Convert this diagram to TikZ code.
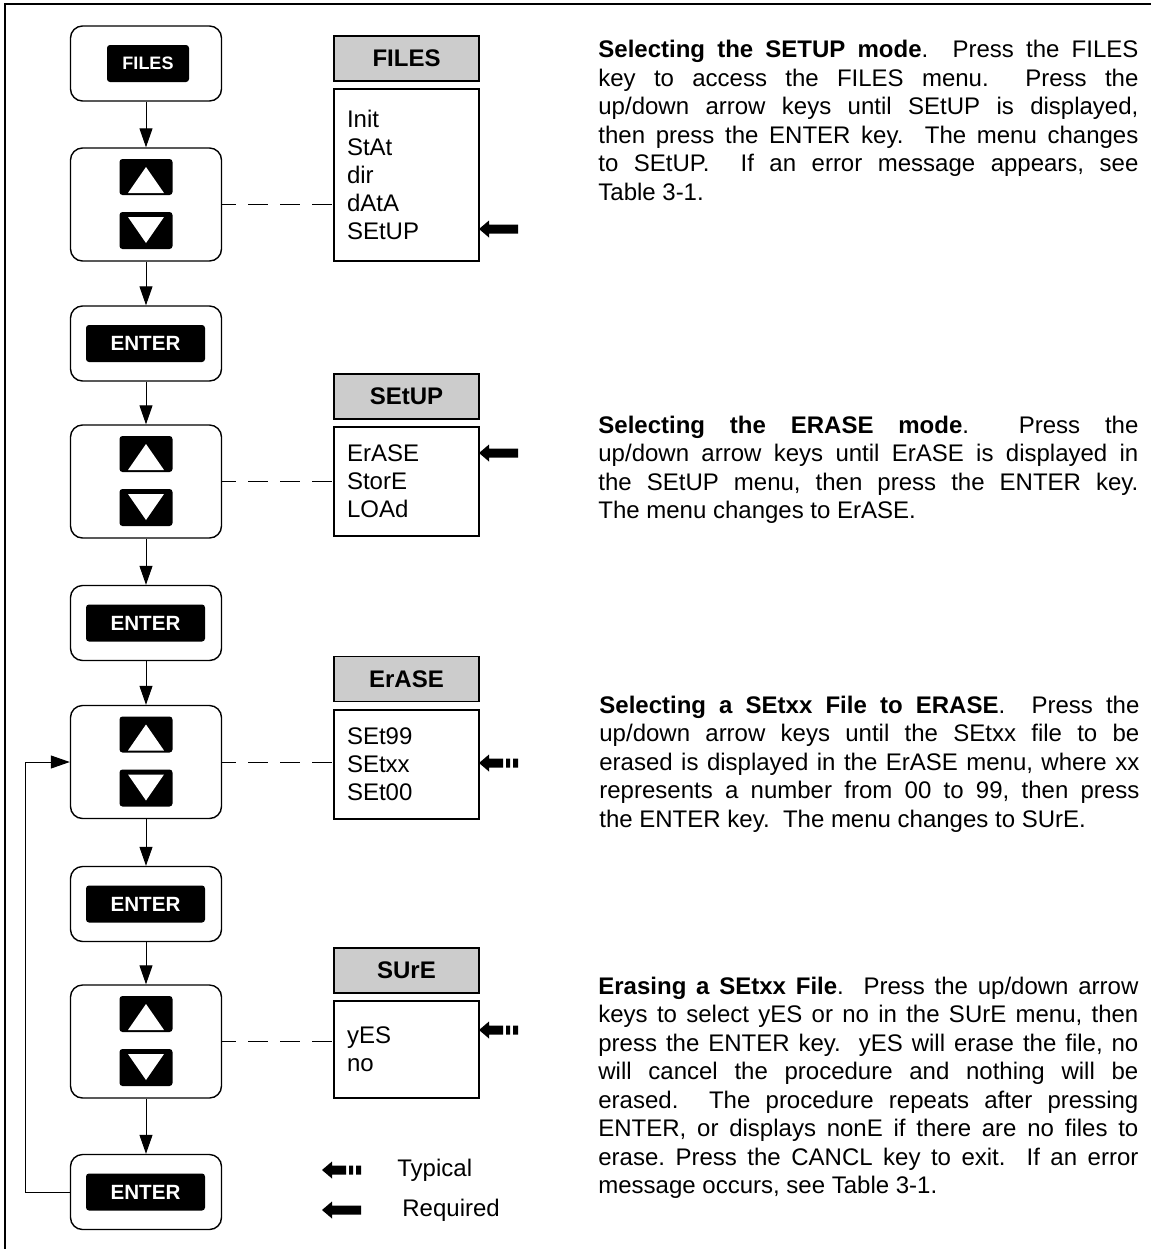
\documentclass[tikz,border=0pt]{standalone}
\usepackage{fontspec}
\setmainfont{Liberation Sans}
\setsansfont{Liberation Sans}
\usetikzlibrary{arrows.meta}
\definecolor{headgray}{RGB}{204,204,204}

% selection markers (tip at #1, pointing left)
\newcommand{\reqmark}[1]{%
  \fill[shift={(#1)}] (0,0) -- (10,-8.5) -- (10,-4.5) -- (39,-4.5) -- (39,4.5)
    -- (10,4.5) -- (10,8.5) -- cycle;}
\newcommand{\typmark}[1]{%
  \fill[shift={(#1)}] (0,0) -- (10,-8.5) -- (10,-4.5) -- (24,-4.5) -- (24,4.5)
    -- (10,4.5) -- (10,8.5) -- cycle;
  \fill[shift={(#1)}] (27,-4.5) rectangle (31,4.5) (34,-4.5) rectangle (39,4.5);}

\begin{document}
\begin{tikzpicture}[x=0.5pt,y=-0.5pt,font=\fontsize{12}{14.25}\selectfont,
  keybox/.style={draw,line width=0.7pt,rounded corners=6pt,minimum width=75.5pt,
                 minimum height=37.5pt,inner sep=0pt},
  padbox/.style={keybox,minimum height=56.5pt},
  keycap/.style={fill=black,text=white,rounded corners=1.5pt,minimum height=18.5pt,
                 inner sep=0pt,font=\fontsize{10.3}{12}\selectfont\bfseries},
  menuhead/.style={draw,fill=headgray,line width=0.6pt,minimum width=72.5pt,
                 minimum height=22.5pt,inner sep=0pt,font=\fontsize{12}{14}\selectfont\bfseries},
  menulist/.style={draw,line width=0.6pt,text width=59.5pt,inner xsep=6.5pt,
                 inner ysep=0pt,align=left,font=\fontsize{12}{14}\selectfont},
  para/.style={anchor=north west,text width=270pt,inner sep=0pt,align=justify,
                 font=\fontsize{12}{14.25}\selectfont\frenchspacing},
  lbl/.style={anchor=west,inner sep=0pt},
  arr/.style={-{Triangle[length=9.5pt,width=6.5pt]},line width=0.5pt},
  link/.style={line width=0.5pt,dash pattern=on 10pt off 6pt,dash phase=3pt}]
  \useasboundingbox (0,0) rectangle (1151,1249);
  \draw[line width=1pt] (5,1249) -- (5,4) -- (1151,4);

  % keys
  \node[keybox] (fkey) at (146,63.5) {};
  \node[keycap,minimum width=41pt,font=\fontsize{9}{11}\selectfont\bfseries] (fcap) at (148,63.5) {FILES};
  \foreach \n/\y in {ent1/343.5,ent2/623,ent3/904,ent4/1192} {
    \node[keybox] (\n) at (146,\y) {};
    \node[keycap,minimum width=59.5pt] (\n-cap) at (145.5,\y) {ENTER};
  }
  \foreach \n/\y in {ud1/204.5,ud2/481.5,ud3/762,ud4/1041.5} {
    \node[padbox] (\n) at (146,\y) {};
    \fill[rounded corners=1.5pt] (119.5,\y-45.5) rectangle (172.5,\y-9.5);
    \fill[rounded corners=1.5pt] (119.5,\y+7.5) rectangle (172.5,\y+44.5);
    \fill[white] (128,\y-11.5) -- (164,\y-11.5) -- (146,\y-37.5) -- cycle;
    \fill[white] (128,\y+12.5) -- (164,\y+12.5) -- (146,\y+38.5) -- cycle;
  }
  \foreach \a/\b in {fkey/ud1,ud1/ent1,ent1/ud2,ud2/ent2,ent2/ud3,ud3/ent3,ent3/ud4,ud4/ent4}
    \draw[arr] (\a) -- (\b);
  \draw[arr] (ent4.west) -- ++(-44,0) |- (ud3.west);

  % menus
  \node[menuhead] (fhead) at (406.5,58.5) {FILES};
  \node[menulist,minimum height=86pt] (flist) at (406.5,175) {Init\\StAt\\dir\\dAtA\\SEtUP};
  \node[menuhead] (shead) at (406.5,396.5) {SEtUP};
  \node[menulist,minimum height=54.5pt] (slist) at (406.5,481.5) {ErASE\\StorE\\LOAd};
  \node[menuhead] (ehead) at (406.5,679) {ErASE};
  \node[menulist,minimum height=54.5pt] (elist) at (406.5,764.5) {SEt99\\SEtxx\\SEt00};
  \node[menuhead] (uhead) at (406.5,970.5) {SUrE};
  \node[menulist,minimum height=48.5pt] (ulist) at (406.5,1049.5) {yES\\no};
  \draw[link] (ud1.east) -- (flist.west |- ud1.east);
  \draw[link] (ud2.east) -- (slist.west |- ud2.east);
  \draw[link] (ud3.east) -- (elist.west |- ud3.east);
  \draw[link] (ud4.east) -- (ulist.west |- ud4.east);
  \reqmark{479,229}
  \reqmark{479,453}
  \typmark{479,763}
  \typmark{479,1030}

  % legend
  \typmark{322,1170}
  \node[lbl] (typlbl) at (397,1170) {Typical};
  \reqmark{322,1210}
  \node[lbl] (reqlbl) at (402,1210) {Required};

  % descriptions
  \node[para] (p1) at (598,40) {\textbf{Selecting the SETUP mode}.~ Press the FILES\linebreak
    key to access the FILES menu.~ Press the\linebreak
    up/down arrow keys until SEtUP is displayed,\linebreak
    then press the ENTER key.~ The menu changes\linebreak
    to SEtUP.~ If an error message appears, see\linebreak
    Table 3-1.};
  \node[para] (p2) at (598,415.5) {\textbf{Selecting the ERASE mode}.~ Press the\linebreak
    up/down arrow keys until ErASE is displayed in\linebreak
    the SEtUP menu, then press the ENTER key.\linebreak
    The menu changes to ErASE.};
  \node[para] (p3) at (599,695.5) {\textbf{Selecting a SEtxx File to ERASE}.~ Press the\linebreak
    up/down arrow keys until the SEtxx file to be\linebreak
    erased is displayed in the ErASE menu, where xx\linebreak
    represents a number from 00 to 99, then press\linebreak
    the ENTER key.~ The menu changes to SUrE.};
  \node[para] (p4) at (598,976.5) {\textbf{Erasing a SEtxx File}.~ Press the up/down arrow\linebreak
    keys to select yES or no in the SUrE menu, then\linebreak
    press the ENTER key.~ yES will erase the file, no\linebreak
    will cancel the procedure and nothing will be\linebreak
    erased.~ The procedure repeats after pressing\linebreak
    ENTER, or displays nonE if there are no files to\linebreak
    erase. Press the CANCL key to exit.~ If an error\linebreak
    message occurs, see Table 3-1.};
\end{tikzpicture}
\end{document}
